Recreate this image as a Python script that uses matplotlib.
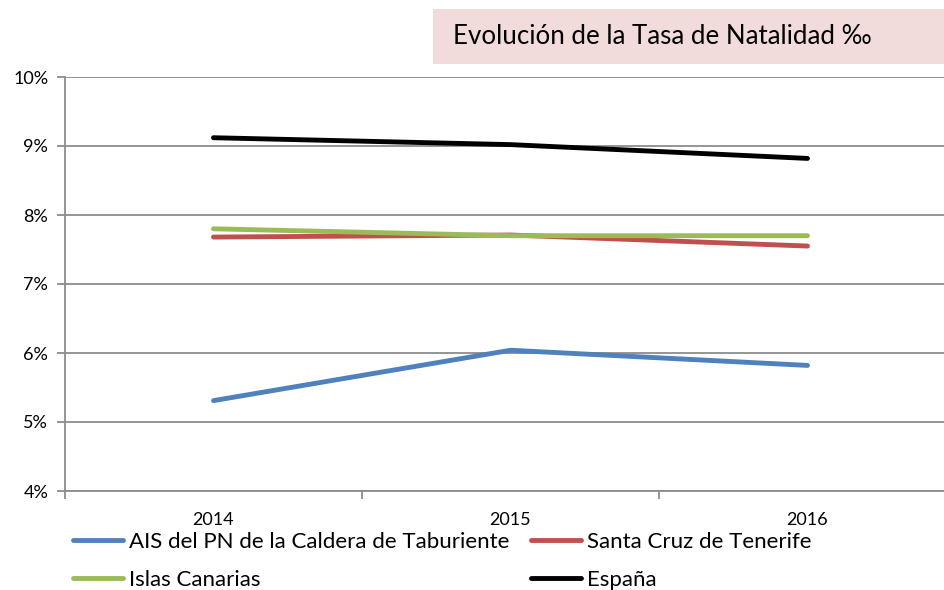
import matplotlib
matplotlib.use("Agg")
import matplotlib.pyplot as plt
from matplotlib.patches import Rectangle

years = ["2014", "2015", "2016"]
ais = [5.31, 6.04, 5.82]
santa_cruz = [7.68, 7.71, 7.55]
canarias = [7.80, 7.70, 7.70]
espana = [9.12, 9.02, 8.82]
yticks = [4, 5, 6, 7, 8, 9, 10]
ytick_labels = ["4%", "5%", "6%", "7%", "8%", "9%", "10%"]

series = [
    ("AIS del PN de la Caldera de Taburiente", ais, "#4F81BD"),
    ("Santa Cruz de Tenerife", santa_cruz, "#C0504D"),
    ("Islas Canarias", canarias, "#9BBB59"),
    ("España", espana, "#000000"),
]

plt.rcParams['font.family'] = ['Lato', 'DejaVu Sans']

W, H = 944, 590
fig = plt.figure(figsize=(W/100, H/100), dpi=100)
left, right, top, bottom = 65, 956, 77, 491
ax = fig.add_axes([left/W, (H-bottom)/H, (right-left)/W, (bottom-top)/H])

x = list(range(len(years)))
handles = []
for name, vals, col in series:
    h, = ax.plot(x, vals, color=col, lw=3.5, solid_capstyle='round', label=name, zorder=3)
    handles.append(h)

ax.set_xlim(-0.5, len(years) - 0.5)
ax.set_ylim(4, 10)
ax.set_yticks(yticks)
ax.set_yticklabels(ytick_labels, fontsize=13)
ax.yaxis.grid(True, color="#8C8C8C", lw=1.3)
ax.set_axisbelow(True)

ax.set_xticks(x)
ax.set_xticklabels(years, fontsize=13)
ax.set_xticks([i - 0.5 for i in range(len(years) + 1)], minor=True)
ax.tick_params(axis='x', which='major', length=0, pad=15)
ax.tick_params(axis='x', which='minor', length=6, width=1.3, color="#8C8C8C", direction='out')
ax.tick_params(axis='y', length=6, width=1.3, color="#8C8C8C", direction='out', pad=6)

for s in ['top', 'right']:
    ax.spines[s].set_visible(False)
for s in ['left', 'bottom']:
    ax.spines[s].set_color("#8C8C8C")
    ax.spines[s].set_linewidth(1.3)

# title box
fig.patches.append(Rectangle((433/W, 1-64/H), (W-433)/W, (64-9)/H,
                             transform=fig.transFigure, facecolor="#F2DCDB",
                             edgecolor='none', zorder=0))
fig.text(453/W, 1-37/H, "Evolución de la Tasa de Natalidad ‰", fontsize=18.6,
         va='center', ha='left')

# legend: row-major order (matplotlib fills columns first)
order = [0, 2, 1, 3]
leg = fig.legend([handles[i] for i in order], [series[i][0] for i in order],
                 loc='upper left', bbox_to_anchor=(73/W, 1-532/H), ncol=2,
                 frameon=False, fontsize=16, handlelength=2.25, handletextpad=0.25,
                 columnspacing=1.0, labelspacing=0.8, borderaxespad=0, borderpad=0)

fig.savefig("out.png", dpi=100)
